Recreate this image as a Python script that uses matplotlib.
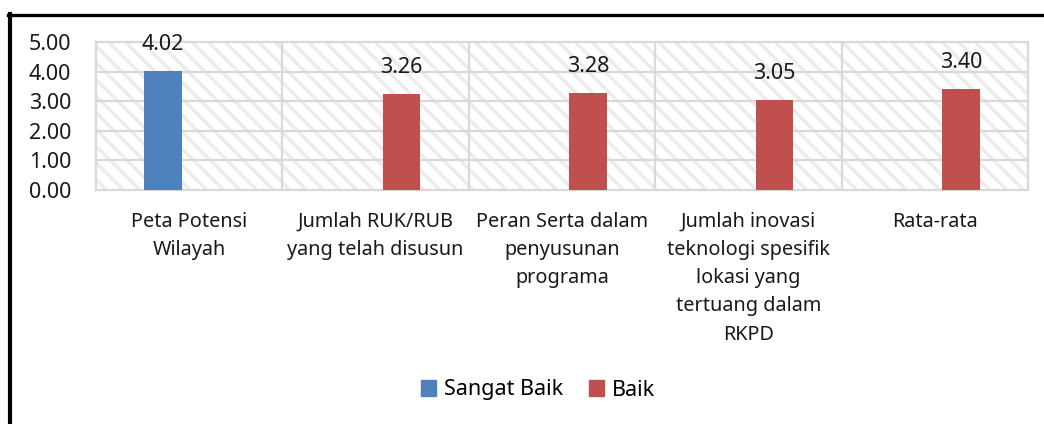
import numpy as np
import matplotlib
matplotlib.use("Agg")
import matplotlib.pyplot as plt
from matplotlib.patches import Patch

plt.rcParams['font.family'] = ['Noto Sans', 'DejaVu Sans']
plt.rcParams['hatch.linewidth'] = 2.5
plt.rcParams['hatch.color'] = '#ececec'

# data
categories = ["Peta Potensi\nWilayah",
              "Jumlah RUK/RUB\nyang telah disusun",
              "Peran Serta dalam\npenyusunan\nprograma",
              "Jumlah inovasi\nteknologi spesifik\nlokasi yang\ntertuang dalam\nRKPD",
              "Rata-rata"]
sangat_baik = [4.02, np.nan, np.nan, np.nan, np.nan]
baik = [np.nan, 3.26, 3.28, 3.05, 3.40]
series_names = ["Sangat Baik", "Baik"]
colors = ["#4f81bd", "#c0504d"]
yticks = [0, 1, 2, 3, 4, 5]

W, H = 1044, 424
fig = plt.figure(figsize=(W / 100, H / 100), dpi=100)
ax = fig.add_axes([96 / W, (H - 190) / H, (1028 - 96) / W, (190 - 42) / H])

ax.patch.set_facecolor('white')
ax.patch.set_hatch('\\\\')
ax.patch.set_edgecolor('#ececec')

x = np.arange(len(categories))
off, bw = 0.14, 0.2
for vals, dx, c in [(sangat_baik, -off, colors[0]), (baik, off, colors[1])]:
    bars = ax.bar(x + dx, vals, width=bw, color=c, zorder=3)
    for b, v in zip(bars, vals):
        if np.isnan(v):
            continue
        ax.annotate(f"{v:.2f}", (b.get_x() + b.get_width() / 2, v),
                    xytext=(0, 19), textcoords='offset points',
                    ha='center', va='center', fontsize=15.5, color='#1a1a1a')

ax.set_xlim(-0.5, len(categories) - 0.5)
ax.set_ylim(0, 5)
ax.set_yticks(yticks)
ax.set_yticklabels([f"{t:.2f}" for t in yticks], fontsize=15.5, color='#1a1a1a')
ax.tick_params(axis='y', length=0, pad=18)
ax.set_xticks([])
for i in range(1, 5):
    ax.axhline(i, color='#d9d9d9', lw=1.6, zorder=1)
for i in range(1, len(categories)):
    ax.axvline(i - 0.5, color='#d9d9d9', lw=1.6, zorder=1)
for s in ax.spines.values():
    s.set_color('#d9d9d9')
    s.set_linewidth(1.6)

for i, lab in enumerate(categories):
    ax.annotate(lab, (i, 0), xytext=(0, -15.5), textcoords='offset points',
                ha='center', va='top', fontsize=14.3, linespacing=1.55,
                color='#1a1a1a', annotation_clip=False)

handles = [Patch(color=c, label=n) for c, n in zip(colors, series_names)]
fig.legend(handles=handles, loc='center', bbox_to_anchor=(538 / W, (H - 390) / H),
           ncol=2, frameon=False, fontsize=15.5, handlelength=0.7, handleheight=0.7,
           handletextpad=0.35, columnspacing=1.2)

# outer chart border (left and top visible)
fig.add_artist(plt.Line2D([9.5 / W, 9.5 / W], [0, (H - 14) / H], color='black', lw=3,
                          transform=fig.transFigure))
fig.add_artist(plt.Line2D([8 / W, 1], [(H - 14.5) / H, (H - 14.5) / H], color='black', lw=2.4,
                          transform=fig.transFigure))

fig.savefig("out.png", dpi=100)
